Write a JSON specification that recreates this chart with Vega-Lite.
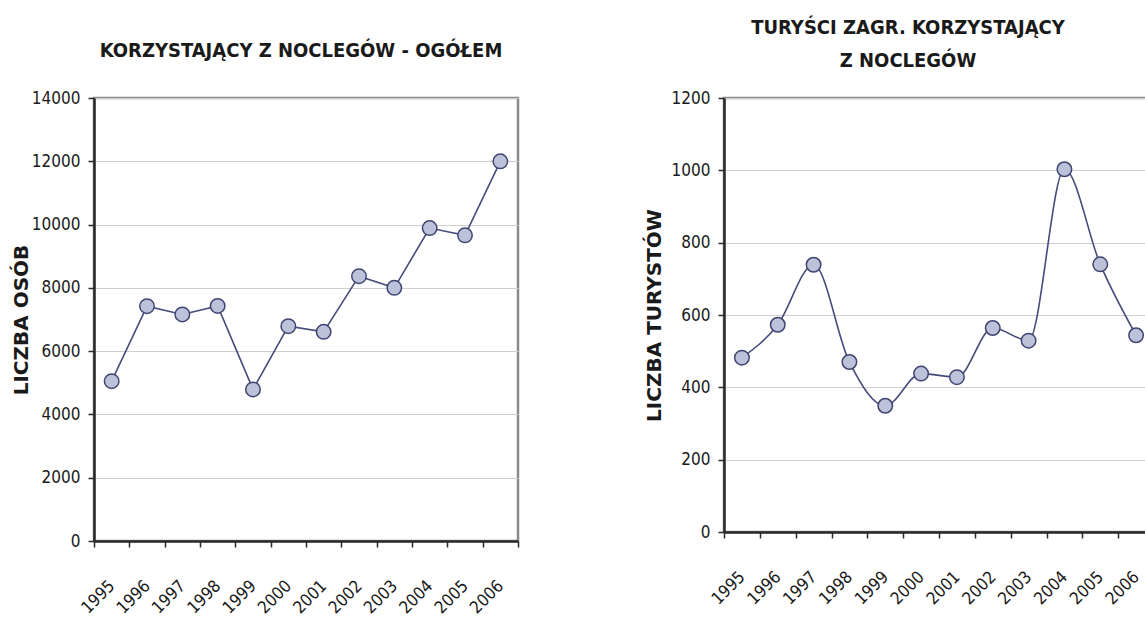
{
  "$schema": "https://vega.github.io/schema/vega-lite/v6.json",
  "background": "white",
  "padding": {"left": 10, "top": 16, "right": 0, "bottom": 5},
  "bounds": "flush",
  "spacing": 206,
  "datasets": {
    "ogolem": [
      {"rok": "1995", "wartosc": 5050},
      {"rok": "1996", "wartosc": 7420},
      {"rok": "1997", "wartosc": 7160},
      {"rok": "1998", "wartosc": 7430},
      {"rok": "1999", "wartosc": 4790},
      {"rok": "2000", "wartosc": 6790},
      {"rok": "2001", "wartosc": 6610},
      {"rok": "2002", "wartosc": 8370},
      {"rok": "2003", "wartosc": 8000},
      {"rok": "2004", "wartosc": 9890},
      {"rok": "2005", "wartosc": 9660},
      {"rok": "2006", "wartosc": 12000}
    ],
    "zagraniczni": [
      {"rok": "1995", "wartosc": 482},
      {"rok": "1996", "wartosc": 573},
      {"rok": "1997", "wartosc": 739},
      {"rok": "1998", "wartosc": 470},
      {"rok": "1999", "wartosc": 349},
      {"rok": "2000", "wartosc": 438},
      {"rok": "2001", "wartosc": 428},
      {"rok": "2002", "wartosc": 564},
      {"rok": "2003", "wartosc": 529},
      {"rok": "2004", "wartosc": 1003},
      {"rok": "2005", "wartosc": 740},
      {"rok": "2006", "wartosc": 544}
    ]
  },
  "config": {
    "view": {"stroke": "#8a8a8a", "strokeWidth": 2.5},
    "font": "DejaVu Sans Condensed, sans-serif",
    "title": {
      "font": "DejaVu Sans Condensed, sans-serif",
      "fontSize": 20,
      "fontWeight": "bold",
      "color": "#1a1a1a",
      "anchor": "middle"
    },
    "axis": {
      "labelFont": "DejaVu Sans Condensed, sans-serif",
      "labelFontSize": 17,
      "labelColor": "#1a1a1a",
      "domainColor": "#2a2a2a",
      "domainWidth": 2.5,
      "tickColor": "#2a2a2a",
      "tickWidth": 1.5,
      "tickSize": 6,
      "gridColor": "#cfcfcf",
      "gridWidth": 1.2,
      "titleFont": "DejaVu Sans",
      "titleFontWeight": "bold",
      "titleFontSize": 20,
      "titleColor": "#1a1a1a"
    }
  },
  "hconcat": [
    {
      "data": {"name": "ogolem"},
      "width": 424,
      "height": 443,
      "title": {"text": "KORZYSTAJĄCY Z NOCLEGÓW - OGÓŁEM", "offset": 28, "dx": -5},
      "encoding": {
        "x": {
          "field": "rok", "type": "ordinal",
          "scale": {"paddingInner": 0, "paddingOuter": 0},
          "axis": {"title": null, "labelAngle": -45, "labelAlign": "right", "labelBaseline": "middle", "labelPadding": 36, "tickBand": "extent", "grid": false}
        },
        "y": {
          "field": "wartosc", "type": "quantitative",
          "scale": {"domain": [0, 14000], "nice": false},
          "axis": {"title": "LICZBA OSÓB", "values": [0, 2000, 4000, 6000, 8000, 10000, 12000, 14000], "format": "d", "labelPadding": 8, "titlePadding": 0}
        }
      },
      "layer": [
        {"mark": {"type": "line", "color": "#454b7a", "strokeWidth": 1.6}},
        {"mark": {"type": "point", "filled": true, "fill": "#bcc2da", "stroke": "#3f4470", "strokeWidth": 1.5, "size": 210, "opacity": 1}}
      ]
    },
    {
      "data": {"name": "zagraniczni"},
      "width": 430,
      "height": 434,
      "title": {"text": ["TURYŚCI ZAGR. KORZYSTAJĄCY", "Z NOCLEGÓW"], "offset": 18, "dx": -31, "lineHeight": 33},
      "encoding": {
        "x": {
          "field": "rok", "type": "ordinal",
          "scale": {"paddingInner": 0, "paddingOuter": 0},
          "axis": {"title": null, "labelAngle": -45, "labelAlign": "right", "labelBaseline": "middle", "labelPadding": 36, "tickBand": "extent", "grid": false}
        },
        "y": {
          "field": "wartosc", "type": "quantitative",
          "scale": {"domain": [0, 1200], "nice": false},
          "axis": {"title": "LICZBA TURYSTÓW", "values": [0, 200, 400, 600, 800, 1000, 1200], "format": "d", "labelPadding": 8, "titlePadding": 7}
        }
      },
      "layer": [
        {"mark": {"type": "line", "color": "#454b7a", "strokeWidth": 1.6, "interpolate": "monotone"}},
        {"mark": {"type": "point", "filled": true, "fill": "#bcc2da", "stroke": "#3f4470", "strokeWidth": 1.5, "size": 210, "opacity": 1}}
      ]
    }
  ]
}
